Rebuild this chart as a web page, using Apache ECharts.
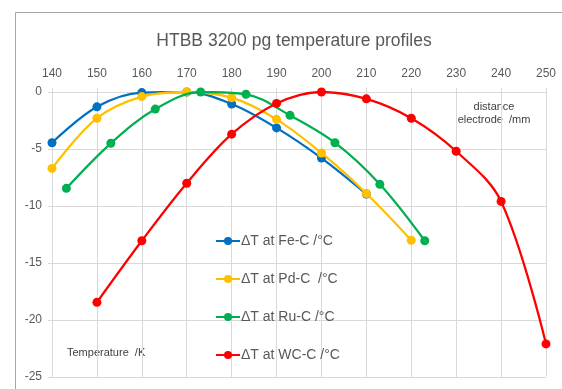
<!DOCTYPE html>
<html><head><meta charset="utf-8">
<script src="https://cdn.jsdelivr.net/npm/echarts@6/dist/echarts.min.js"></script>
<style>html,body{margin:0;padding:0;background:#fff}#c{width:562px;height:389px}</style>
</head><body><div id="c"></div>
<script>
const titleText = "HTBB 3200 pg temperature profiles";
const seriesNames = ["ΔT at Fe-C /°C", "ΔT at Pd-C  /°C", "ΔT at Ru-C /°C", "ΔT at WC-C /°C"];
const colors = ["#0070C0", "#FFC000", "#00B050", "#FF0000"];
const feX = [140,150,160,170,180,190,200,210];
const feY = [-4.45,-1.3,-0.05,0,-1.05,-3.15,-5.8,-8.95];
const pdX = [140,150,160,170,180,190,200,210,220];
const pdY = [-6.7,-2.3,-0.4,0,-0.5,-2.4,-5.35,-8.9,-13.0];
const ruX = [143.2,153.1,163,173.1,183.2,193,203,213,223];
const ruY = [-8.45,-4.5,-1.5,0,-0.2,-2.05,-4.45,-8.1,-13.05];
const wcX = [150,160,170,180,190,200,210,220,230,240,250];
const wcY = [-18.45,-13.05,-8.0,-3.7,-1.0,0,-0.6,-2.3,-5.2,-9.6,-22.1];
const xMin = 140, xMax = 250, xStep = 10;
const yMin = -25, yMax = 0, yStep = 5;

const pairs = (xs, ys) => xs.map((x, i) => [x, ys[i]]);
const dataSets = [pairs(feX, feY), pairs(pdX, pdY), pairs(ruX, ruY), pairs(wcX, wcY)];
const font = "'Liberation Sans', Arial, sans-serif";
const chart = echarts.init(document.getElementById('c'));
chart.setOption({
  animation: false,
  textStyle: { fontFamily: font },
  title: { text: titleText, left: 289, top: 27, textAlign: 'center',
    textStyle: { fontFamily: font, fontSize: 17.5, fontWeight: 'normal', color: '#595959' } },
  grid: { left: 52, right: 16, top: 92, bottom: 12 },
  legend: {
    orient: 'vertical', left: 210, top: 229, itemGap: 24, itemWidth: 24, itemHeight: 10,
    textStyle: { fontFamily: font, fontSize: 14, color: '#595959', padding: [0, 0, 0, -4] },
    data: seriesNames
  },
  xAxis: {
    type: 'value', position: 'top', min: xMin, max: xMax, interval: xStep,
    axisLine: { onZero: false, lineStyle: { color: '#d9d9d9' } },
    axisTick: { show: true, length: 4, lineStyle: { color: '#d9d9d9' } },
    axisLabel: { color: '#595959', fontSize: 12, margin: 12, fontFamily: font },
    splitLine: { show: true, lineStyle: { color: '#d9d9d9' } }
  },
  yAxis: {
    type: 'value', min: yMin, max: yMax, interval: yStep,
    axisLine: { show: true, lineStyle: { color: '#d9d9d9' } },
    axisTick: { show: true, length: 4, lineStyle: { color: '#d9d9d9' } },
    axisLabel: { color: '#595959', fontSize: 12, margin: 10, fontFamily: font },
    splitLine: { show: true, lineStyle: { color: '#d9d9d9' } }
  },
  graphic: [
    { type: 'rect', shape: { x: 15.5, y: 12.5, width: 700, height: 500 }, style: { fill: 'none', stroke: '#a6a6a6', lineWidth: 1 }, silent: true, z: -10 },
    { type: 'text', x: 494, y: 100, style: { text: 'distance\nelectrode  /mm', align: 'center', fill: '#404040', font: '11px ' + font, lineHeight: 13 } },
    { type: 'text', x: 67, y: 347, style: { text: 'Temperature  /K', fill: '#404040', font: '11px ' + font } }
  ],
  series: dataSets.map((d, i) => ({
    name: seriesNames[i], type: 'line', data: d, smooth: 0.35,
    symbol: 'circle', symbolSize: 9, showSymbol: true,
    itemStyle: { color: colors[i] },
    lineStyle: { color: colors[i], width: 2.25 },
    z: 2 + i
  }))
});
</script></body></html>
